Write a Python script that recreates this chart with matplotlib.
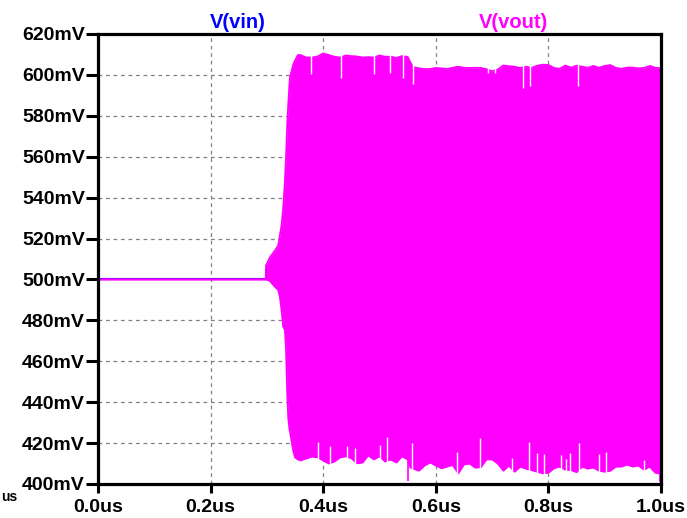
import matplotlib
matplotlib.use("Agg")
import matplotlib.pyplot as plt
import numpy as np

# ---------------- data ----------------
# V(vout) envelope: time (us), upper and lower bound (mV)
vout_t = [0.0, 0.298, 0.2985, 0.3055, 0.314, 0.320, 0.323, 0.326, 0.329, 0.332,
          0.334, 0.336, 0.338, 0.340, 0.341, 0.345, 0.347, 0.350, 0.355,
          0.36, 0.37, 0.38, 0.39, 0.40, 0.41, 0.42, 0.43, 0.44, 0.45,
          0.46, 0.47, 0.48, 0.49, 0.50, 0.51, 0.52, 0.53, 0.54, 0.55, 0.555,
          0.56, 0.57, 0.58, 0.59, 0.60, 0.61, 0.62, 0.63, 0.64, 0.65,
          0.66, 0.67, 0.68, 0.69, 0.70, 0.71, 0.72, 0.73, 0.74, 0.75,
          0.76, 0.77, 0.78, 0.79, 0.80, 0.81, 0.82, 0.83, 0.84, 0.85,
          0.86, 0.87, 0.88, 0.89, 0.90, 0.91, 0.92, 0.93, 0.94, 0.95,
          0.96, 0.97, 0.98, 0.99, 1.00]
vout_hi = [500, 500, 506.8, 510.9, 514.0, 516.6, 521.5, 526.4, 535, 548,
           560, 575, 586, 595, 599, 603, 605.3, 607, 609.7,
           609.7, 608.5, 608.5, 609.0, 610.5, 609.7, 608.9, 608.5, 609.5, 609.2,
           609.0, 608.5, 608.7, 608.5, 609.5, 608.9, 608.9, 608.3, 609.2, 608.8, 606.0,
           603.8, 603.2, 602.9, 602.9, 603.4, 603.2, 602.9, 603.5, 604.0, 603.5,
           603.4, 603.5, 603.4, 602.8, 601.8, 602.6, 604.6, 604.3, 604.0, 603.4,
           604.0, 603.4, 604.5, 605.0, 604.9, 603.4, 603.0, 604.6, 603.6, 604.5,
           604.0, 603.5, 604.4, 603.5, 604.4, 604.8, 603.4, 603.0, 603.6, 603.6,
           603.2, 603.4, 604.4, 603.5, 603.2]
vout_lo = [500, 500, 500, 499.2, 496.5, 494.9, 491.6, 485, 476.9, 475.3,
           465.5, 445, 432, 427, 425.6, 419, 416, 413, 412,
           411.5, 412.5, 413.4, 413.0, 411.5, 410.0, 411.0, 413.0, 413.5, 412.6,
           410.1, 410.5, 414.0, 412.0, 413.5, 411.0, 412.0, 410.5, 413.5, 412.0, 408.0,
           407.5, 406.5, 409.0, 410.5, 409.0, 407.7, 408.5, 409.3, 405.2, 409.5,
           410.0, 408.0, 408.2, 412.0, 412.0, 410.0, 406.5, 409.0, 406.0, 408.5,
           407.5, 406.8, 406.0, 405.2, 405.5, 407.7, 408.5, 407.0, 406.8, 405.8,
           408.5, 407.5, 408.0, 406.5, 406.0, 406.5, 408.5, 408.5, 409.5, 408.5,
           409.0, 407.0, 408.5, 405.5, 405.0]

# narrow gaps in the filled trace (time us, level mV reached by the gap)
gap_top_t = [0.379, 0.432, 0.490, 0.519, 0.541, 0.559, 0.693, 0.706, 0.754, 0.767, 0.853]
gap_top_v = [600.4, 598.5, 600.3, 600.8, 598.3, 595.4, 601.0, 601.0, 593.8, 594.7, 594.7]
gap_bot_t = [0.391, 0.412, 0.442, 0.456, 0.500, 0.514, 0.557, 0.637, 0.678, 0.735,
             0.766, 0.779, 0.792, 0.822, 0.832, 0.839, 0.854, 0.889, 0.902, 0.969]
gap_bot_v = [420.7, 418.6, 418.6, 417.5, 419.0, 423.0, 420.0, 415.8, 422.3, 412.7,
             420.7, 415.3, 414.5, 414.0, 412.0, 415.3, 420.2, 414.5, 415.8, 411.5]
# spikes reaching below the lower envelope
dip_t = [0.551, 0.999]
dip_v = [401.5, 401.0]

# V(vin)
vin_t = [0.0, 0.2984, 0.2984, 1.0]
vin_v = [500, 500, 505, 505]

x_ticks = [0.0, 0.2, 0.4, 0.6, 0.8, 1.0]
x_labels = ["0.0us", "0.2us", "0.4us", "0.6us", "0.8us", "1.0us"]
y_ticks = [400, 420, 440, 460, 480, 500, 520, 540, 560, 580, 600, 620]
y_labels = [f"{v}mV" for v in y_ticks]

# ---------------- drawing ----------------
MAG = "#FF00FF"
BLUE = "#0000FF"
plt.rcParams["font.family"] = ["Liberation Sans", "DejaVu Sans"]
plt.rcParams["font.weight"] = "bold"

fig = plt.figure(figsize=(6.87, 5.18), dpi=100)
W, H = 687, 518
ax = fig.add_axes([98 / W, (H - 484) / H, 563 / W, 450 / H])

ax.set_xlim(0.0, 1.0)
ax.set_ylim(400, 620)

ax.plot(vin_t, vin_v, color=BLUE, lw=1.5, zorder=2)
ax.fill_between(vout_t, vout_lo, vout_hi, color=MAG, lw=0, zorder=3)
ax.plot(vout_t, vout_hi, color=MAG, lw=1.3, zorder=3)
ax.plot(vout_t, vout_lo, color=MAG, lw=1.3, zorder=3)
for t, v in zip(gap_top_t, gap_top_v):
    top = np.interp(t, vout_t, vout_hi) + 1.5
    ax.vlines(t, v, top, color="white", lw=1.0, zorder=4)
for t, v in zip(gap_bot_t, gap_bot_v):
    bot = np.interp(t, vout_t, vout_lo) - 1.5
    ax.vlines(t, bot, v, color="white", lw=1.0, zorder=4)
for t, v in zip(dip_t, dip_v):
    ax.vlines(t, v, np.interp(t, vout_t, vout_lo), color=MAG, lw=1.2, zorder=4)

ax.set_xticks(x_ticks)
ax.set_xticklabels(x_labels)
ax.set_yticks(y_ticks)
ax.set_yticklabels(y_labels)
ax.grid(True, color="#808080", lw=0.9, linestyle=(0, (3, 3)))
ax.set_axisbelow(True)

for s in ax.spines.values():
    s.set_linewidth(2.3)
    s.set_color("black")
    s.set_zorder(6)

ax.tick_params(axis="y", direction="out", length=8.5, width=2.2, pad=1,
               labelsize=14, colors="black")
ax.tick_params(axis="x", direction="out", length=6.5, width=2.2, pad=4.5,
               labelsize=14, colors="black")
for lab in ax.get_xticklabels() + ax.get_yticklabels():
    lab.set_fontweight("bold")

fig.text(238 / W, 1 - 22 / H, "V(vin)", color=BLUE, fontsize=14.5,
         fontweight="bold", ha="center", va="center")
fig.text(513 / W, 1 - 22 / H, "V(vout)", color=MAG, fontsize=14.5,
         fontweight="bold", ha="center", va="center")
fig.text(1 / W, 1 - 497 / H, "us", color="black", fontsize=10,
         fontweight="bold", ha="left", va="center")

fig.savefig("out.png", dpi=100)
